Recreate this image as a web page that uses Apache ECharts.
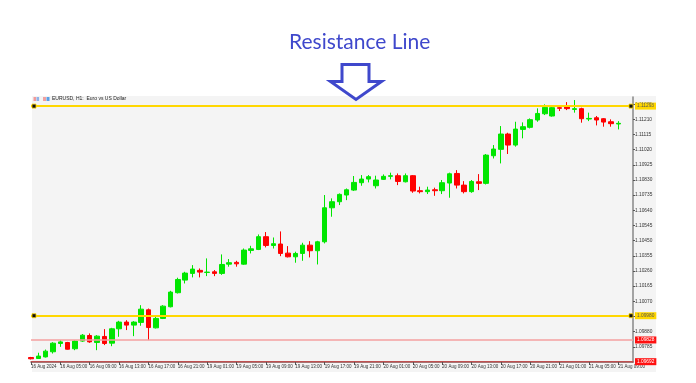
<!DOCTYPE html>
<html>
<head>
<meta charset="utf-8">
<script src="https://cdn.jsdelivr.net/npm/echarts@6/dist/echarts.min.js"></script>
<style>html,body{margin:0;padding:0;background:#fff}#c{width:696px;height:383px}</style>
</head>
<body>
<div id="c"></div>
<script>
// ---- data (EURUSD, H1) ----
const times = [
 '16 Aug 01:00','16 Aug 02:00','16 Aug 03:00','16 Aug 04:00','16 Aug 05:00','16 Aug 06:00','16 Aug 07:00','16 Aug 08:00',
 '16 Aug 09:00','16 Aug 10:00','16 Aug 11:00','16 Aug 12:00','16 Aug 13:00','16 Aug 14:00','16 Aug 15:00','16 Aug 16:00',
 '16 Aug 17:00','16 Aug 18:00','16 Aug 19:00','16 Aug 20:00','16 Aug 21:00','16 Aug 22:00','16 Aug 23:00',
 '19 Aug 00:00','19 Aug 01:00','19 Aug 02:00','19 Aug 03:00','19 Aug 04:00','19 Aug 05:00','19 Aug 06:00','19 Aug 07:00',
 '19 Aug 08:00','19 Aug 09:00','19 Aug 10:00','19 Aug 11:00','19 Aug 12:00','19 Aug 13:00','19 Aug 14:00','19 Aug 15:00',
 '19 Aug 16:00','19 Aug 17:00','19 Aug 18:00','19 Aug 19:00','19 Aug 20:00','19 Aug 21:00','19 Aug 22:00','19 Aug 23:00',
 '20 Aug 00:00','20 Aug 01:00','20 Aug 02:00','20 Aug 03:00','20 Aug 04:00','20 Aug 05:00','20 Aug 06:00','20 Aug 07:00',
 '20 Aug 08:00','20 Aug 09:00','20 Aug 10:00','20 Aug 11:00','20 Aug 12:00','20 Aug 13:00','20 Aug 14:00','20 Aug 15:00',
 '20 Aug 16:00','20 Aug 17:00','20 Aug 18:00','20 Aug 19:00','20 Aug 20:00','20 Aug 21:00','20 Aug 22:00','20 Aug 23:00',
 '21 Aug 00:00','21 Aug 01:00','21 Aug 02:00','21 Aug 03:00','21 Aug 04:00','21 Aug 05:00','21 Aug 06:00','21 Aug 07:00',
 '21 Aug 08:00','21 Aug 09:00'
];
const emptyTimes = ['21 Aug 10:00','21 Aug 11:00'];

const opens = [
 1.09718,1.09712,1.09722,1.09754,1.09806,1.09812,1.09773,1.09821,1.09856,1.09812,1.09850,1.09808,1.09898,1.09940,1.09921,1.09938,
 1.10017,1.09904,1.09963,1.10036,1.10124,1.10203,1.10245,
 1.10264,1.10251,1.10255,1.10245,1.10303,1.10314,1.10303,1.10389,1.10395,1.10475,1.10420,1.10429,1.10372,1.10349,1.10370,1.10422,
 1.10387,1.10443,1.10656,1.10694,1.10736,1.10767,1.10813,1.10836,
 1.10794,1.10834,1.10853,1.10857,1.10819,1.10857,1.10763,1.10757,1.10769,1.10763,1.10811,1.10871,1.10798,1.10757,1.10819,1.10809,
 1.10982,1.11022,1.11118,1.11049,1.11147,1.11160,1.11206,1.11245,
 1.11231,1.11283,1.11287,1.11272,1.11277,1.11212,1.11220,1.11214,1.11195,1.11181
];
const closes = [
 1.09710,1.09727,1.09758,1.09808,1.09816,1.09770,1.09821,1.09858,1.09816,1.09852,1.09806,1.09898,1.09940,1.09921,1.09940,1.10021,
 1.09906,1.09963,1.10040,1.10128,1.10207,1.10247,1.10272,
 1.10253,1.10253,1.10245,1.10301,1.10312,1.10305,1.10391,1.10399,1.10475,1.10420,1.10431,1.10370,1.10349,1.10370,1.10422,1.10387,
 1.10443,1.10656,1.10694,1.10740,1.10769,1.10815,1.10836,1.10851,
 1.10830,1.10853,1.10857,1.10821,1.10857,1.10761,1.10757,1.10767,1.10763,1.10813,1.10869,1.10798,1.10757,1.10821,1.10809,1.10986,
 1.11024,1.11118,1.11049,1.11149,1.11164,1.11208,1.11247,1.11285,
 1.11283,1.11279,1.11277,1.11277,1.11214,1.11216,1.11206,1.11193,1.11183,1.11185
];
const lows = [
 1.09706,1.09710,1.09718,1.09743,1.09785,1.09768,1.09764,1.09816,1.09810,1.09764,1.09796,1.09789,1.09848,1.09890,1.09852,1.09917,
 1.09827,1.09900,1.09959,1.10032,1.10119,1.10182,1.10220,
 1.10220,1.10228,1.10228,1.10236,1.10287,1.10287,1.10299,1.10370,1.10391,1.10408,1.10401,1.10353,1.10345,1.10312,1.10324,1.10345,
 1.10301,1.10433,1.10600,1.10673,1.10704,1.10761,1.10794,1.10815,
 1.10777,1.10830,1.10834,1.10798,1.10815,1.10750,1.10746,1.10742,1.10731,1.10742,1.10719,1.10777,1.10746,1.10750,1.10767,1.10802,
 1.10965,1.10934,1.10993,1.11039,1.11091,1.11153,1.11195,1.11237,
 1.11227,1.11262,1.11268,1.11252,1.11189,1.11199,1.11172,1.11164,1.11164,1.11147
];
const highs = [
 1.09722,1.09748,1.09768,1.09814,1.09827,1.09816,1.09827,1.09865,1.09869,1.09858,1.09896,1.09904,1.09948,1.09952,1.09946,1.10046,
 1.10025,1.09973,1.10046,1.10136,1.10218,1.10255,1.10297,
 1.10276,1.10339,1.10266,1.10364,1.10335,1.10324,1.10401,1.10418,1.10489,1.10504,1.10470,1.10508,1.10416,1.10381,1.10437,1.10447,
 1.10449,1.10736,1.10715,1.10746,1.10777,1.10855,1.10861,1.10861,
 1.10857,1.10865,1.10876,1.10871,1.10871,1.10861,1.10788,1.10788,1.10782,1.10830,1.10876,1.10892,1.10823,1.10830,1.10867,1.10993,
 1.11049,1.11168,1.11126,1.11195,1.11191,1.11216,1.11279,1.11304,
 1.11287,1.11289,1.11318,1.11331,1.11283,1.11252,1.11231,1.11218,1.11210,1.11199
];
const xTickLabels = [
 '16 Aug 2024','16 Aug 05:00','16 Aug 09:00','16 Aug 13:00','16 Aug 17:00','16 Aug 21:00',
 '19 Aug 01:00','19 Aug 05:00','19 Aug 09:00','19 Aug 13:00','19 Aug 17:00','19 Aug 21:00',
 '20 Aug 01:00','20 Aug 05:00','20 Aug 09:00','20 Aug 13:00','20 Aug 17:00','20 Aug 21:00',
 '21 Aug 01:00','21 Aug 05:00','21 Aug 09:00'
];
// horizontal levels: resistance, support, pink line, bottom red line
const resistanceLevel = 1.11293;
const supportLevel = 1.09980;
const pinkLevel = 1.09828;
const bottomLevel = 1.09692;
const yMin = 1.09690, yMax = 1.11350, yStep = 0.00095;

const ohlc = opens.map((o, i) => [o, closes[i], lows[i], highs[i]]);

const chart = echarts.init(document.getElementById('c'), null, {renderer: 'canvas'});
const lab = (bg, fg) => ({show: true, position: 'end', distance: 2, fontSize: 4.8, fontFamily: 'Liberation Sans',
  color: fg, backgroundColor: bg, padding: [1, 2, 1, 2], formatter: p => Number(p.value).toFixed(5)});
const handle = (idx, v, off) => ({coord: [idx, v], symbol: 'rect', symbolSize: [4, 4], symbolOffset: [off, 0],
  itemStyle: {color: '#111', borderColor: '#ffd700', borderWidth: 0.8}, label: {show: false}});

chart.setOption({
  animation: false,
  backgroundColor: '#ffffff',
  title: {
    text: 'Resistance Line', left: 284, top: 27,
    textStyle: {fontFamily: 'Lato', fontSize: 21, fontWeight: 'normal', color: '#3f48cc'}
  },
  graphic: [
    {type: 'rect', z: -10, silent: true, shape: {x: 32, y: 96, width: 624, height: 276}, style: {fill: '#f4f4f4'}},
    {type: 'rect', z: 10, shape: {x: 33.5, y: 97, width: 2.6, height: 4}, style: {fill: '#f29a9a'}},
    {type: 'rect', z: 10, shape: {x: 36.5, y: 97, width: 2.6, height: 4}, style: {fill: '#8fb3e8'}},
    {type: 'rect', z: 10, shape: {x: 43, y: 97, width: 3, height: 4}, style: {fill: '#f0a0a0'}},
    {type: 'rect', z: 10, shape: {x: 46.5, y: 97, width: 3, height: 4}, style: {fill: '#5aa0e6'}},
    {type: 'text', z: 10, x: 52, y: 99, style: {text: 'EURUSD, H1:  Euro vs US Dollar', fontSize: 5,
      fontFamily: 'Liberation Sans', fill: '#222', textVerticalAlign: 'middle'}},
    {type: 'polygon', z: 100, shape: {points: [[342, 64.5], [369, 64.5], [369, 81.5], [381.5, 81.5], [356, 99.5], [330.5, 81.5], [342, 81.5]]},
      style: {fill: '#ffffff', stroke: '#3f48cc', lineWidth: 3, lineJoin: 'miter'}}
  ],
  grid: {left: 31, top: 97, width: 602, height: 265, containLabel: false},
  xAxis: {
    type: 'category', data: times.concat(emptyTimes), boundaryGap: false,
    axisLine: {show: true, lineStyle: {color: '#8a4a4a', width: 1.5}},
    axisTick: {show: true, interval: 3, length: 3, lineStyle: {color: '#555'}},
    axisLabel: {interval: 3, align: 'left', margin: 2, fontSize: 4.5, fontFamily: 'Liberation Sans', color: '#333',
      hideOverlap: false, formatter: (v, i) => xTickLabels[i / 4] || ''},
    splitLine: {show: false}
  },
  yAxis: {
    type: 'value', position: 'right', min: yMin, max: yMax, interval: yStep, scale: true,
    axisLine: {show: true, lineStyle: {color: '#888', width: 1.5}},
    axisTick: {show: true, length: 2, lineStyle: {color: '#555'}},
    axisLabel: {margin: 2, fontSize: 4.8, fontFamily: 'Liberation Sans', color: '#333', showMaxLabel: false, showMinLabel: false,
      formatter: v => v.toFixed(5)},
    splitLine: {show: false}
  },
  series: [{
    type: 'candlestick', data: ohlc, barWidth: 5,
    itemStyle: {color: '#00e600', color0: '#ff0000', borderColor: '#00e600', borderColor0: '#ff0000', borderWidth: 1},
    markLine: {
      silent: true, symbol: ['none', 'none'], animation: false, precision: 5,
      data: [
        {yAxis: resistanceLevel, lineStyle: {color: '#ffd700', width: 2, type: 'solid'}, label: lab('#ffd700', '#555')},
        {yAxis: supportLevel, lineStyle: {color: '#ffd700', width: 2, type: 'solid'}, label: lab('#ffd700', '#555')},
        {yAxis: pinkLevel, lineStyle: {color: '#f4a0a0', width: 1.5, type: 'solid'}, label: lab('#ff1010', '#fff')},
        {yAxis: bottomLevel, lineStyle: {color: '#c05050', width: 1, type: 'solid'}, label: lab('#ff1010', '#fff')}
      ]
    },
    markPoint: {
      silent: true, animation: false,
      data: [
        handle(0, resistanceLevel, 3), handle(82, resistanceLevel, -2),
        handle(0, supportLevel, 3), handle(82, supportLevel, -2)
      ]
    }
  }]
});
</script>
</body>
</html>
